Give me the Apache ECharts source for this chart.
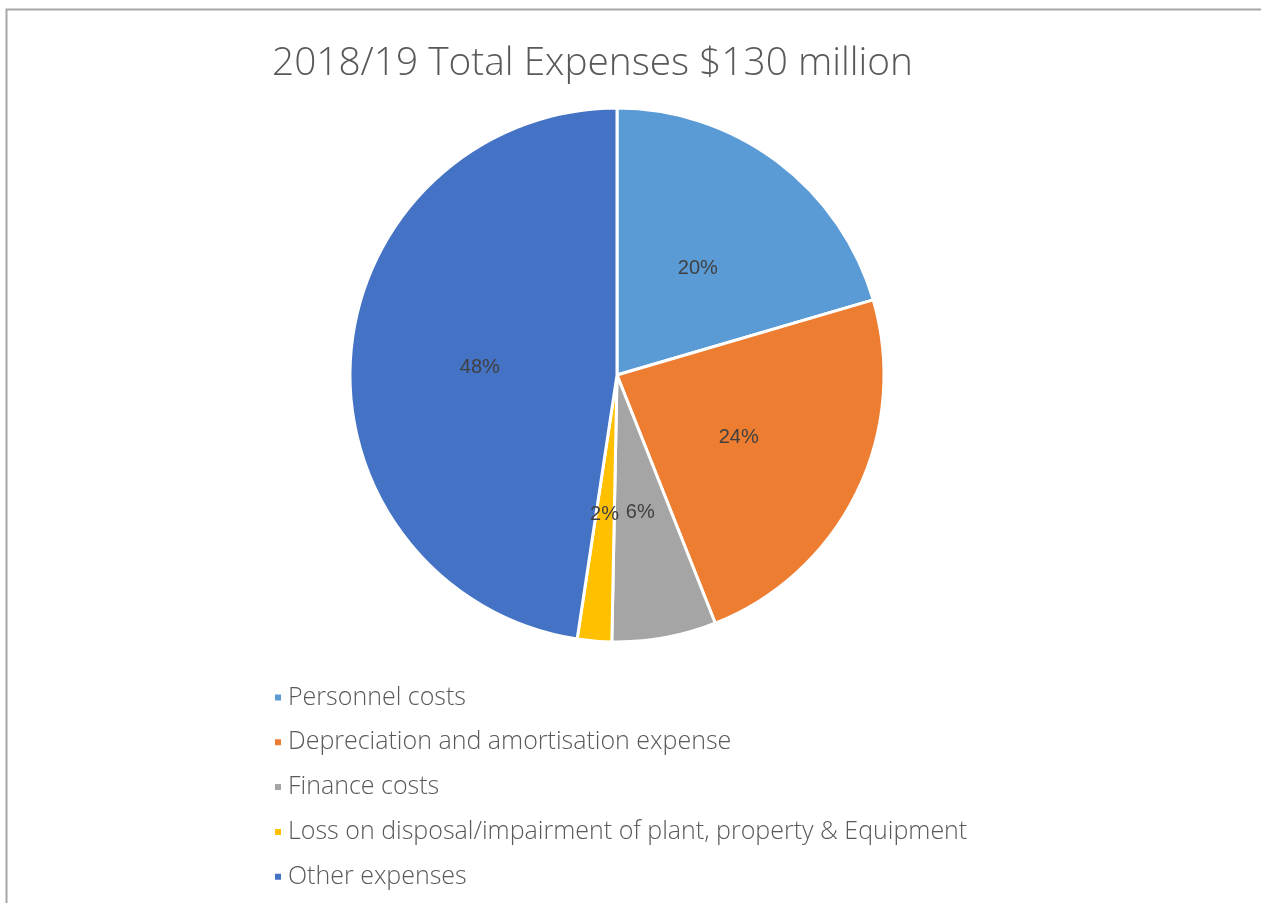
<!DOCTYPE html>
<html>
<head>
<meta charset="utf-8">
<script src="https://cdn.jsdelivr.net/npm/echarts@6/dist/echarts.min.js"></script>
<style>
  html, body { margin: 0; padding: 0; background: #ffffff; }
  #chart { width: 1261px; height: 903px; }
</style>
</head>
<body>
<div id="chart"></div>
<script>
// Expense categories and amounts ($ million), total about $130 million
const categories = [
  'Personnel costs',
  'Depreciation and amortisation expense',
  'Finance costs',
  'Loss on disposal/impairment of plant, property & Equipment',
  'Other expenses'
];
const amounts = [26.6, 30.6, 8.2, 2.7, 61.9];
const colors = ['#5B9BD5', '#ED7D31', '#A5A5A5', '#FFC000', '#4472C4'];
const titleText = '2018/19 Total Expenses $130 million';

const chart = echarts.init(document.getElementById('chart'), null, { renderer: 'canvas' });

const option = {
  animation: false,
  backgroundColor: '#ffffff',
  color: colors,
  graphic: [{
    type: 'rect',
    shape: { x: 6.5, y: 9.5, width: 1300, height: 950 },
    style: { fill: 'none', stroke: '#a6a6a6', lineWidth: 2 },
    silent: true
  }],
  title: {
    text: titleText,
    left: 267,
    top: 39,
    textStyle: {
      fontFamily: '"Open Sans", Lato, sans-serif',
      fontWeight: 300,
      fontSize: 38.8,
      color: '#595959'
    }
  },
  legend: {
    orient: 'vertical',
    left: 268,
    top: 680,
    icon: 'rect',
    itemWidth: 8,
    itemHeight: 8,
    itemGap: 19.8,
    textStyle: {
      fontFamily: '"Open Sans", Lato, sans-serif',
      fontWeight: 300,
      fontSize: 25,
      lineHeight: 25,
      color: '#595959',
      padding: [0, 0, 0, 1]
    },
    data: categories
  },
  series: [{
    type: 'pie',
    center: [617, 375],
    radius: [0, 267],
    startAngle: 90,
    clockwise: true,
    avoidLabelOverlap: false,
    itemStyle: { borderColor: '#ffffff', borderWidth: 3 },
    label: {
      show: true,
      position: 'inside',
      fontFamily: '"Liberation Sans", sans-serif',
      fontSize: 20,
      color: '#404040',
      offset: [-1, 3],
      // whole-number percentages
      formatter: function (p) { return Math.round(p.percent) + '%'; }
    },
    labelLine: { show: false },
    emphasis: { disabled: true },
    data: categories.map((name, i) => ({ name: name, value: amounts[i] }))
  }]
};

chart.setOption(option);
</script>
</body>
</html>
